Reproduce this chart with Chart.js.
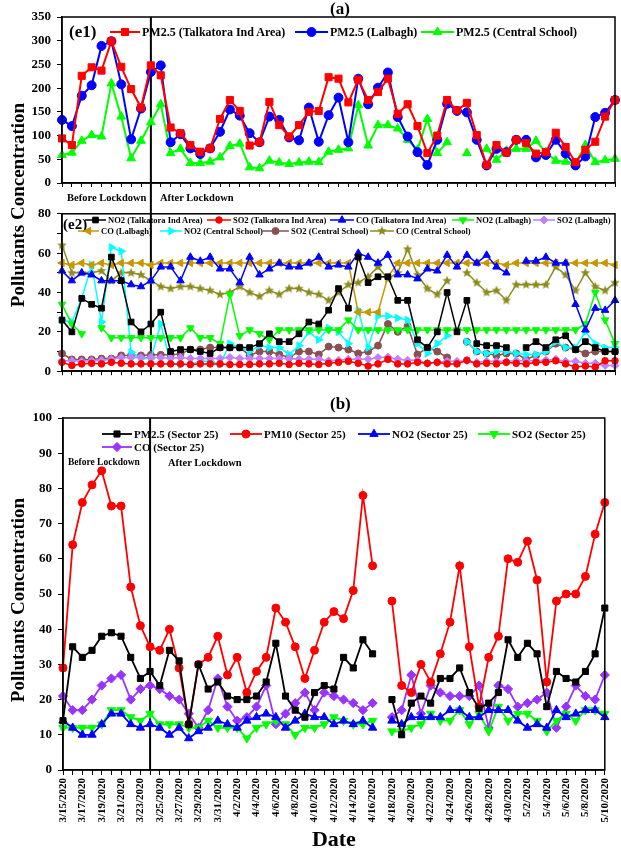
<!DOCTYPE html>
<html>
<head>
<meta charset="utf-8">
<script src="https://cdn.jsdelivr.net/npm/chart.js@4.4.1/dist/chart.umd.min.js"></script>
<style>
  body { margin: 0; background: #fff; }
  #page { position: relative; width: 621px; height: 858px; overflow: hidden; font-family: "Liberation Serif", "Times New Roman", serif; font-weight: bold; color: #000; }
  canvas.chart { position: absolute; left: 0; }
  .txt { position: absolute; white-space: nowrap; line-height: 1; }
  .leg { position: absolute; display: flex; align-items: center; white-space: nowrap; line-height: 1; }
  .leg canvas { margin-right: 2px; }
  .ytitle { position: absolute; white-space: nowrap; font-size: 19px; line-height: 1; transform: translate(-50%, -50%) rotate(-90deg); }
</style>
</head>
<body>
<div id="page">
  <canvas id="chartE1" class="chart" width="621" height="200" style="top:0px"></canvas>
  <canvas id="chartE2" class="chart" width="621" height="185" style="top:200px"></canvas>
  <canvas id="chartB" class="chart" width="621" height="463" style="top:395px"></canvas>

  <div class="txt" style="left:330px; top:0px; font-size:17px">(a)</div>
  <div class="txt" style="left:69px; top:23px; font-size:17px">(e1)</div>
  <div class="txt" style="left:67px; top:193px; font-size:10.5px">Before Lockdown</div>
  <div class="txt" style="left:160px; top:193px; font-size:10.5px">After Lockdown</div>
  <div class="txt" style="left:63px; top:217px; font-size:15px">(e2)</div>
  <div class="txt" style="left:330px; top:395px; font-size:17px">(b)</div>
  <div class="txt" style="left:68px; top:458px; font-size:9.5px">Before Lockdown</div>
  <div class="txt" style="left:168px; top:458px; font-size:10.5px">After Lockdown</div>
  <div class="ytitle" style="left:17px; top:205px">Pollutants Concentration</div>
  <div class="ytitle" style="left:17px; top:600px">Pollutants Concentration</div>
</div>

<script>
// dates on the shared x axis
const dates = [
  "3/15/2020", "3/16/2020", "3/17/2020", "3/18/2020", "3/19/2020", "3/20/2020", "3/21/2020",
  "3/22/2020", "3/23/2020", "3/24/2020", "3/25/2020", "3/26/2020", "3/27/2020", "3/28/2020",
  "3/29/2020", "3/30/2020", "3/31/2020", "4/1/2020", "4/2/2020", "4/3/2020", "4/4/2020",
  "4/5/2020", "4/6/2020", "4/7/2020", "4/8/2020", "4/9/2020", "4/10/2020", "4/11/2020",
  "4/12/2020", "4/13/2020", "4/14/2020", "4/15/2020", "4/16/2020", "4/17/2020", "4/18/2020",
  "4/19/2020", "4/20/2020", "4/21/2020", "4/22/2020", "4/23/2020", "4/24/2020", "4/25/2020",
  "4/26/2020", "4/27/2020", "4/28/2020", "4/29/2020", "4/30/2020", "5/1/2020", "5/2/2020",
  "5/3/2020", "5/4/2020", "5/5/2020", "5/6/2020", "5/7/2020", "5/8/2020", "5/9/2020", "5/10/2020"
];
const lockdownDate = "3/24/2020";

// y tick labels
const e1TickLabels = [0, 50, 100, 150, 200, 250, 300, 350];
const e2TickLabels = [0, 20, 40, 60, 80];
const bTickLabels = [0, 10, 20, 30, 40, 50, 60, 70, 80, 90, 100];

// (e1) PM2.5
const pm25Talkatora = [94, 80, 226, 244, 237, 299, 245, 198, 159, 248, 227, 117, 105, 80, 66, 73, 135, 175, 152, 79, 86, 171, 122, 98, 122, 150, 152, 223, 220,
  170, 218, 175, 192, 220, 146, 166, 120, 63, 100, 175, 153, 169, 101, 38, 80, 64, 91, 84, 62, 65, 106, 76, 44, 70, 87, 140, 175];
const pm25Lalbagh = [133, 120, 184, 206, 289, 299, 208, 92, 157, 234, 248, 86, 103, 73, 61, 73, 108, 155, 142, 105, 86, 140, 133, 96, 90, 159, 87, 143, 180,
  86, 220, 166, 201, 233, 139, 98, 65, 38, 91, 167, 152, 149, 91, 37, 72, 65, 91, 91, 54, 59, 91, 62, 37, 56, 139, 148, 175];
const pm25Central = [59, 64, 89, 101, 98, 210, 140, 52, 89, 128, 166, 63, 72, 42, 42, 45, 54, 78, 83, 33, 31, 47, 43, 40, 43, 45, 44, 66, 70,
  73, 164, 79, 122, 122, 115, 91, 70, 135, 63, 86, null, 63, null, 72, 49, 68, 72, 72, 89, 65, 47, 45, 42, 80, 44, 48, 51];

// (e2) gases
const no2Talkatora = [26, 20, 37, 34, 32, 58, 46, 25, 20, 24, 30, 10, 11, 11, 10, 9, 12, 12, 12, 12, 14, 19, 15, 15, 19, 25, 24, 31, 42,
  32, 58, 45, 48, 48, 36, 36, 16, 12, 20, 40, 20, 36, 14, 13, 13, 12, null, 12, 15, 12, 16, 18, 11, 15, 12, 10, 10];
const so2Talkatora = [4.5, 2.9, 3.7, 4, 3.7, 4.5, 4, 3.7, 3.7, 3.7, 3.7, 3.7, 3.7, 3.4, 3.7, 3.7, 3.7, 3.4, 3.4, 3.4, 3.7, 3.7, 4, 3.4, 4, 3.7, 3.4, 4, 4.5,
  5, 4, 2.6, 3.7, 6, 3.7, 3.7, 4.5, 4, 4.5, 3.7, 3.7, 5.6, 3.7, 4, 3.7, 4.5, 4, 3.7, 4.5, 4.5, 5.3, 3.7, 2.1, 2.6, 2.1, 5.3, 5.3];
const coTalkatora = [51, 46, 50, 49, 46, 46, 46, 44, 43, 46, 53, 53, 46, 58, 56, 58, 52, 52, 45, 58, 49, 52, 55, 53, 53, 55, 58, 53, 54,
  53, 60, 58, 55, 59, 49, 49, 47, 52, 51, 59, 53, 59, 55, 59, 53, 50, null, 56, 56, 58, 55, 55, 34, 21, 32, 31, 36];
const no2Lalbagh = [34, 24, 19, null, 22, 17, 17, 17, 17, 17, 17, 17, 17, 22, 17, 17, 14, 39, 18, 21, 19, 16, 21, 21, 21, 21, 21, 21, 21,
  26, 21, 21, 21, 21, 21, 21, 21, 21, 21, 21, 21, 21, 21, 21, 21, 21, 21, 21, 21, 21, 21, 21, 21, 24, 40, 26, 14];
const so2Lalbagh = [5.3, 5.3, 5, 5.3, 5.6, 6.1, 6.9, 6.9, 6.9, 6.9, 6.9, 6.6, 6.9, 6.5, 6.5, 6.5, 6.5, 7, 6.5, 6.5, 6.5, 6.5, 6.5, 6.5, 6.1, 6.1, 6.1, 5.3,
  5.6, 6.1, 6.1, 6.1, 6.9, 7.2, 6.1, 5.6, 5.6, 4, 4.5, 5, 5, 5.3, 4.5, 5, 5, 5, 5.3, 5.3, 5.3, 5.6, 6.1, 5, 5, 4, 4, 2.9, 2.9];
const coLalbagh = [55, 54, 55, 54, 55, 54, 55, 55, 55, 54, 55, 55, 55, 55, 55, 55, 55, 55, 55, 55, 55, 55, 55, 55, 55, 55, 55, 55, 55, 55,
  30, 30, 30, 48, 55, 55, 55, 55, 55, 55, 55, 55, 55, 55, 55, 54, 55, 55, 55, 55, 55, 55, 55, 55, 55, 55, 54];
const no2Central = [26, 25, 37, 54, 25, 63, 61, 9.6, 6.4, 6.4, 24, 4, 3.3, 3.4, 5, 5, 3.4, 14, 12, 10, 13, 12, 12, 8.5, 13, 20, 16, 22, 20,
  14, 31, 12, 28, 28, 27, 26, 14, 9, 14, 18, null, 15, 10, 9, 10, 10, 9, 8.5, 8.5, 10, 15, 12, 12, 20, 14, 12, 12];
const so2Central = [9, 6, 6, 6, 6.4, 6.4, 8, 8, 8, 8.3, 8.3, 8.3, 8.8, 11, 11, 12, 12, 12, 12, 8, 10, 10, 8.5, 7, 10, 10, 8.5, 12.5, 12,
  11, 9, 10, 13, 24, 20, 23, 8.5, 12, 10, 7, null, 15, 10, 9, 8, 9, 9, 6, 8, 10, 14, 12, 11, 9, 10, 10, 10];
const coCentral = [64, 50, 50, 50, 51, 46, 50, 50, 49, 46, 43, 42, 43, 43, 42, 41, 39, 40, 43, 40, 38, 41, 39, 42, 42, 40, 39, 36, 40,
  44, 45, 48, 53, 47, 50, 62, 49, 42, 39, 46, null, 50, 45, 40, 41, 36, 44, 44, 44, 44, 53, 49, 41, 50, 43, 41, 45];

// (b) Sector 25
const pm25Sector25 = [14, 35, 32, 34, 38, 39, 38, 32, 26, 28, 24, 34, 31, 13, 30, 23, 25, 21, 20, 20, 21, 25, 36, 21, 17, 15, 22, 24, 23,
  32, 29, 37, 33, null, 20, 10, 19, 21, 19, 26, 26, 29, 22, 17.5, 19, 22, 37, 32, 36, 33, 18, 28, 26, 25, 28, 33, 46];
const pm10Sector25 = [29, 64, 76, 81, 85, 75, 75, 52, 41, 35, 34, 40, 29, 13, 30, 32, 38, 27, 32, 22, 28, 32, 46, 42, 35, 26, 34, 42, 45,
  43, 51, 78, 58, null, 48, 24, 22, 30, 25, 33, 42, 58, 35, 18, 32, 38, 60, 59, 65, 54, 25, 48, 50, 50, 55, 67, 76];
const no2Sector25 = [14, 12, 10, 10, 13, 16, 16, 13, 12, 13, 12, 10, 12, 9, 11, 12, 14, 13, 12, 14, 15, 16, 15, 12, 14, 16, 15, 15, 13,
  14, 13, 14, 12, null, 14, 13, 15, 15, 15, 15, 17, 17, 15, 15, 17, 17, 17, 14, 12, 13, 12, 17, 15, 16, 17, 17, 15];
const so2Sector25 = [12, 12, 12, 12, 13, 17, 17, 15, 14, 16, 13, 13, 13, 12, 12, 14, 12, 12, 12, 9, 12, 13, 14, 13, 10, 12, 12, 13, 15,
  14, 13, 13, 14, null, 11, 11, 12, 13, 16, 14, 14, 17, 13, 16, 11, 18, 14, 16, 16, 14, 11, 14, 16, 14, 17, 17, 16];
const coSector25 = [21, 17, 17, 20, 24, 26, 27, 20, 23, 24, 23, 21, 20, 16, 12, 17, 26, 18, 14, 15, 18, 24, 13, 16, 19, 22, 17, 22, 21,
  20, 19, 17, 19, null, 15, 17, 27, 16, 24, 22, 21, 21, 21, 24, 12, 24, 23, 18, 19, 20, 22, 12, 18, 24, 21, 20, 27];

const FONT = '"Liberation Serif", "Times New Roman", serif';

// filled five point star used as a marker
function starImage(color, r) {
  const c = document.createElement('canvas');
  c.width = c.height = Math.ceil(r * 2 + 2);
  const g = c.getContext('2d');
  g.fillStyle = color;
  g.beginPath();
  for (let i = 0; i < 10; i++) {
    const rad = (i % 2 === 0) ? r : r * 0.45;
    const a = -Math.PI / 2 + i * Math.PI / 5;
    g.lineTo(c.width / 2 + rad * Math.cos(a), c.height / 2 + rad * Math.sin(a));
  }
  g.closePath();
  g.fill();
  return c;
}

function series(label, data, color, style, radius, rotation, width) {
  return {
    label: label,
    data: data,
    borderColor: color,
    backgroundColor: color,
    pointBackgroundColor: color,
    pointBorderColor: color,
    pointStyle: style,
    pointRadius: radius,
    pointRotation: rotation || 0,
    pointBorderWidth: 1,
    borderWidth: width,
    tension: 0,
    spanGaps: false
  };
}

// frame round the plot area and the lockdown line
const framePlugin = {
  id: 'frame',
  beforeDatasetsDraw(chart, args, opts) {
    const a = chart.chartArea;
    const x = chart.scales.x.getPixelForValue(dates.indexOf(lockdownDate));
    const ctx = chart.ctx;
    ctx.save();
    ctx.strokeStyle = '#000';
    ctx.lineWidth = 2;
    ctx.beginPath();
    ctx.moveTo(x, opts.lineFromTop ? 0 : a.top);
    ctx.lineTo(x, opts.lineToBottom ? chart.height : a.bottom);
    ctx.stroke();
    ctx.restore();
  },
  afterDraw(chart) {
    const a = chart.chartArea;
    const ctx = chart.ctx;
    ctx.save();
    ctx.strokeStyle = '#000';
    ctx.lineWidth = 1.5;
    ctx.strokeRect(a.left, a.top, a.right - a.left, a.bottom - a.top);
    ctx.restore();
  }
};

function yAxis(tickLabels, leftWidth) {
  const step = (tickLabels[1] - tickLabels[0]) / 2;
  return {
    min: tickLabels[0],
    max: tickLabels[tickLabels.length - 1],
    afterFit(s) { s.width = leftWidth; },
    ticks: {
      stepSize: step,
      color: '#000',
      padding: 6,
      font: { family: FONT, weight: 'bold', size: 13 },
      callback: v => tickLabels.includes(v) ? String(v) : ''
    },
    grid: { drawOnChartArea: false, drawTicks: true, tickLength: 5, color: '#000', lineWidth: 1 },
    border: { display: true, color: '#000', width: 1.5 }
  };
}

function hiddenXAxis(height) {
  return {
    afterFit(s) { s.height = height; },
    ticks: { autoSkip: false, maxRotation: 0, callback: () => '' },
    grid: { drawOnChartArea: false, drawTicks: true, tickLength: 4, color: '#000', lineWidth: 1 },
    border: { display: true, color: '#000', width: 1.5 }
  };
}

function makeChart(id, datasets, yOpts, xOpts, padding, frameOpts) {
  return new Chart(document.getElementById(id), {
    type: 'line',
    data: { labels: dates, datasets: datasets },
    options: {
      responsive: false,
      animation: false,
      devicePixelRatio: 1,
      layout: { padding: padding },
      plugins: { legend: { display: false }, tooltip: { enabled: false }, frame: frameOpts },
      scales: { x: xOpts, y: yOpts }
    },
    plugins: [framePlugin]
  });
}

const e1Sets = [
  series('PM2.5 (Talkatora Ind Area)', pm25Talkatora, '#ff0000', 'rect', 5, 0, 2),
  series('PM2.5 (Lalbagh)', pm25Lalbagh, '#0000ff', 'circle', 4.5, 0, 2),
  series('PM2.5 (Central School)', pm25Central, '#00ff00', 'triangle', 5, 0, 2)
];
const e2Sets = [
  series('NO2 (Talkatora Ind Area)', no2Talkatora, '#000000', 'rect', 4, 0, 1.5),
  series('SO2 (Talkatora Ind Area)', so2Talkatora, '#ff0000', 'circle', 3.3, 0, 1.5),
  series('CO (Talkatora Ind Area)', coTalkatora, '#0000ff', 'triangle', 4.3, 0, 1.5),
  series('NO2 (Lalbagh)', no2Lalbagh, '#00ff00', 'triangle', 4.3, 180, 1.5),
  series('SO2 (Lalbagh)', so2Lalbagh, '#c080ff', 'rectRot', 4, 0, 1.5),
  series('CO (Lalbagh)', coLalbagh, '#c89600', 'triangle', 4.3, 270, 1.5),
  series('NO2 (Central School)', no2Central, '#00ffff', 'triangle', 4.3, 90, 1.5),
  series('SO2 (Central School)', so2Central, '#8a5050', 'circle', 3.5, 0, 1.5),
  series('CO (Central School)', coCentral, '#8c8c1e', starImage('#8c8c1e', 5), 5, 0, 1.5)
];
const bSets = [
  series('PM2.5 (Sector 25)', pm25Sector25, '#000000', 'rect', 4.3, 0, 1.8),
  series('PM10 (Sector 25)', pm10Sector25, '#ff0000', 'circle', 4, 0, 1.8),
  series('NO2 (Sector 25)', no2Sector25, '#0000ff', 'triangle', 4.8, 0, 1.8),
  series('SO2 (Sector 25)', so2Sector25, '#00ff00', 'triangle', 4.8, 180, 1.8),
  series('CO (Sector 25)', coSector25, '#9933ff', 'rectRot', 4.6, 0, 1.8)
];

makeChart('chartE1', e1Sets, yAxis(e1TickLabels, 62), hiddenXAxis(17),
  { top: 17, right: 6, left: 0, bottom: 0 }, { lineToBottom: true });
makeChart('chartE2', e2Sets, yAxis(e2TickLabels, 62), hiddenXAxis(8),
  { top: 7, right: 6, left: 0, bottom: 0 }, { lineFromTop: true });
makeChart('chartB', bSets, yAxis(bTickLabels, 63), {
  afterFit(s) { s.height = 88; },
  ticks: {
    autoSkip: false, minRotation: 90, maxRotation: 90, padding: 3, color: '#000',
    font: { family: FONT, weight: 'bold', size: 11 },
    callback: (v, i) => i % 2 === 0 ? dates[i] : ''
  },
  grid: { drawOnChartArea: false, drawTicks: true, tickLength: 5, color: '#000', lineWidth: 1 },
  border: { display: true, color: '#000', width: 1.5 },
  title: { display: true, text: 'Date', color: '#000', font: { family: FONT, weight: 'bold', size: 22 } }
}, { top: 23, right: 7, left: 0, bottom: 0 }, {});

// legends, drawn with the same marker styles as the datasets
function legendItem(ds, x, cy, sampleW, fontSize) {
  const item = document.createElement('div');
  item.className = 'leg';
  item.style.left = x + 'px';
  item.style.top = (cy - 7) + 'px';
  item.style.height = '14px';
  item.style.fontSize = fontSize + 'px';
  const c = document.createElement('canvas');
  c.width = sampleW;
  c.height = 14;
  const g = c.getContext('2d');
  g.strokeStyle = ds.borderColor;
  g.fillStyle = ds.backgroundColor;
  g.lineWidth = Math.max(ds.borderWidth, 1.5);
  g.beginPath();
  g.moveTo(0, 7);
  g.lineTo(sampleW, 7);
  g.stroke();
  g.lineWidth = 1;
  Chart.helpers.drawPoint(g, { pointStyle: ds.pointStyle, rotation: ds.pointRotation, radius: ds.pointRadius, borderWidth: 1 }, sampleW / 2, 7);
  const t = document.createElement('span');
  t.textContent = ds.label;
  item.appendChild(c);
  item.appendChild(t);
  document.getElementById('page').appendChild(item);
}

legendItem(e1Sets[0], 110, 32, 30, 12);
legendItem(e1Sets[1], 295, 32, 33, 12);
legendItem(e1Sets[2], 421, 32, 33, 12);

legendItem(e2Sets[0], 85, 220, 21, 8.5);
legendItem(e2Sets[1], 207, 220, 24, 8.5);
legendItem(e2Sets[2], 330, 220, 24, 8.5);
legendItem(e2Sets[3], 452, 220, 22, 8.5);
legendItem(e2Sets[4], 533, 220, 22, 8.5);
legendItem(e2Sets[5], 78, 231, 21, 8.5);
legendItem(e2Sets[6], 160, 231, 22, 8.5);
legendItem(e2Sets[7], 262, 231, 27, 8.5);
legendItem(e2Sets[8], 370, 231, 24, 8.5);

legendItem(bSets[0], 102, 434, 30, 11);
legendItem(bSets[1], 230, 434, 32, 11);
legendItem(bSets[2], 358, 434, 32, 11);
legendItem(bSets[3], 478, 434, 32, 11);
legendItem(bSets[4], 102, 447, 30, 11);
</script>
</body>
</html>
